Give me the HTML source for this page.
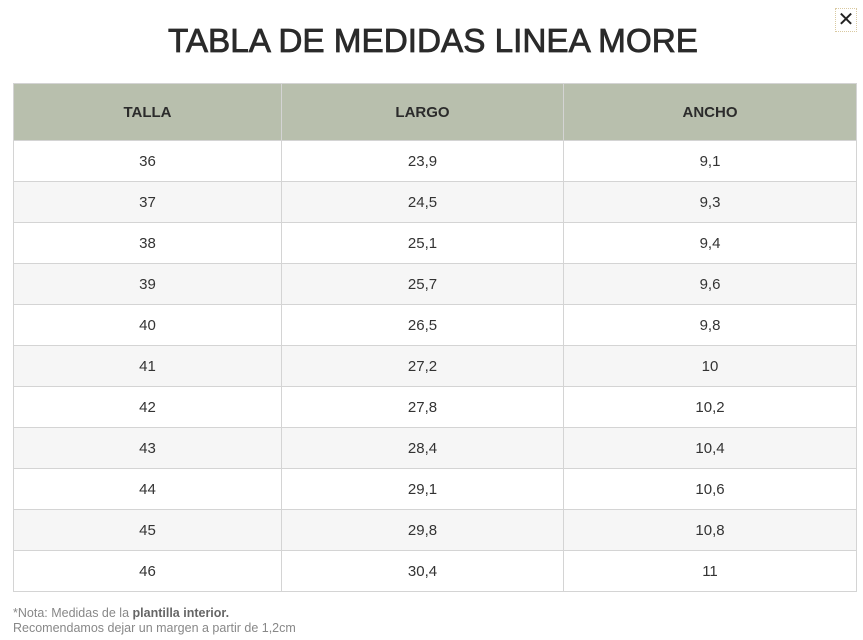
<!DOCTYPE html>
<html><head><meta charset="utf-8"><style>
body{margin:0;width:863px;height:640px;background:#fff;position:relative;overflow:hidden;font-family:"Liberation Sans",sans-serif;}
svg.t{position:absolute;left:0;top:0}
table{position:absolute;left:13px;top:83px;border-collapse:collapse;width:844px;}
td,th{border:1px solid #d4d4d4;text-align:center;font-size:15px;color:#333;padding:0;}
th{background:#b8bfad;height:56px;font-weight:bold;font-size:15px;color:#2b2b2b;}
td{height:40px;}
tr:nth-child(odd) td{background:#f6f6f6;}
.note{position:absolute;left:13px;top:606px;font-size:12.5px;color:#888;line-height:15px;}
.note b{color:#666;}
.x{position:absolute;left:835px;top:8px;width:20px;height:22px;border:1px dotted #d9c9a0;font-size:20px;line-height:22px;text-align:center;color:#222;}
</style></head><body>
<svg class="t" width="863" height="80"><text x="168" y="52" textLength="530" lengthAdjust="spacingAndGlyphs" font-family="Liberation Sans" font-size="33" fill="#2a2a2a" stroke="#2a2a2a" stroke-width="0.8">TABLA DE MEDIDAS LINEA MORE</text></svg>
<div class="x">✕</div>
<table>
<tr><th style="width:267px">TALLA</th><th style="width:281px">LARGO</th><th>ANCHO</th></tr>
<tr><td>36</td><td>23,9</td><td>9,1</td></tr>
<tr><td>37</td><td>24,5</td><td>9,3</td></tr>
<tr><td>38</td><td>25,1</td><td>9,4</td></tr>
<tr><td>39</td><td>25,7</td><td>9,6</td></tr>
<tr><td>40</td><td>26,5</td><td>9,8</td></tr>
<tr><td>41</td><td>27,2</td><td>10</td></tr>
<tr><td>42</td><td>27,8</td><td>10,2</td></tr>
<tr><td>43</td><td>28,4</td><td>10,4</td></tr>
<tr><td>44</td><td>29,1</td><td>10,6</td></tr>
<tr><td>45</td><td>29,8</td><td>10,8</td></tr>
<tr><td>46</td><td>30,4</td><td>11</td></tr>
</table>
<div class="note">*Nota: Medidas de la <b>plantilla interior.</b><br>Recomendamos dejar un margen a partir de 1,2cm</div>
</body></html>
